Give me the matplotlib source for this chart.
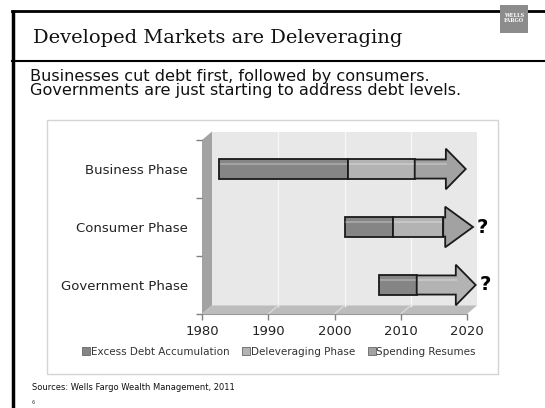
import numpy as np
import matplotlib
matplotlib.use('Agg')
import matplotlib.pyplot as plt
from matplotlib.patches import Polygon, Rectangle
from matplotlib.lines import Line2D

# Phase timeline (years); the last stage of each row is drawn as an arrow
categories = ['Business Phase', 'Consumer Phase', 'Government Phase']
excess_start = [1981.0, 2000.0, 2005.2]
delever_start = [2000.6, 2007.3, 2010.9]
resume_start = [2010.6, 2014.9, np.nan]   # government has not resumed spending
head_base = [2015.3, 2015.2, 2016.8]
arrow_tip = [2018.3, 2019.4, 2019.8]
open_ended = [False, True, True]

years = [1980, 1990, 2000, 2010, 2020]
legend_labels = ['Excess Debt Accumulation', 'Deleveraging Phase', 'Spending Resumes']
colors = ['#858585', '#b3b3b3', '#a2a2a2']

W, H = 545, 408
fig = plt.figure(figsize=(W / 100, H / 100), dpi=100)
fig.patch.set_facecolor('white')

# slide frame in pixel coordinates
frame = fig.add_axes([0, 0, 1, 1])
frame.set_xlim(0, W)
frame.set_ylim(H, 0)
frame.axis('off')
frame.plot([13, 13], [10, H], color='black', lw=2.5, solid_capstyle='butt')
frame.plot([12, W], [11, 11], color='black', lw=2)
frame.plot([12, W], [61, 61], color='black', lw=1.5)
frame.add_patch(Rectangle((500, 5), 28, 28, facecolor='#8c8c8c', edgecolor='none', zorder=3))
frame.text(514, 18, 'WELLS\nFARGO', color='white', fontsize=3.6, fontweight='bold',
           family='DejaVu Serif', ha='center', va='center', linespacing=1.0, zorder=4)
frame.text(33, 43, 'Developed Markets are Deleveraging', family='DejaVu Serif',
           fontsize=14, ha='left', va='baseline', color='#111111')
frame.text(30, 76, 'Businesses cut debt first, followed by consumers.',
           fontsize=11.6, ha='left', va='center', color='#111111')
frame.text(30, 90, 'Governments are just starting to address debt levels.',
           fontsize=11.6, ha='left', va='center', color='#111111')
frame.add_patch(Rectangle((47, 120), 451, 254, facecolor='white', edgecolor='#d4d4d4', lw=1))
frame.text(32, 388, 'Sources: Wells Fargo Wealth Management, 2011', fontsize=6,
           ha='left', va='center', color='#111111')
frame.text(32, 402, '6', fontsize=3.5, ha='left', va='center', color='#333333')

# chart: front plane of the 3D box
ax = fig.add_axes([202 / W, 1 - 314 / H, 265 / W, 174 / H])
ax.set_facecolor('none')
ax.set_xlim(1980, 2020)
ax.set_ylim(0, 3)
for s in ax.spines.values():
    s.set_visible(False)

# depth offset of the back wall, in data units
ddx = 10 * 40 / 265
ddy = 8.5 * 3 / 174

ax.add_patch(Rectangle((1980 + ddx, ddy), 40, 3, facecolor='#e8e8e8', edgecolor='none',
                       clip_on=False, zorder=0))
ax.add_patch(Polygon([(1980, 0), (1980, 3), (1980 + ddx, 3 + ddy), (1980 + ddx, ddy)],
                     facecolor='#a3a3a3', edgecolor='none', clip_on=False, zorder=0))
ax.add_patch(Polygon([(1980, 0), (2020, 0), (2020 + ddx, ddy), (1980 + ddx, ddy)],
                     facecolor='#bcbcbc', edgecolor='none', clip_on=False, zorder=0))
for yr in years[1:-1]:
    ax.plot([yr + ddx, yr + ddx], [ddy, 3 + ddy], color='#f7f7f7', lw=1, zorder=1, clip_on=False)
    ax.plot([yr, yr + ddx], [0, ddy], color='#d8d8d8', lw=1, zorder=1, clip_on=False)

ax.set_xticks(years)
ax.set_xticklabels([str(y) for y in years], fontsize=9.5, color='#222222')
ax.tick_params(axis='x', length=4, width=1, color='#808080', pad=4)
ax.set_yticks([2.5, 1.5, 0.5])
ax.set_yticklabels(categories, fontsize=9.5, color='#222222')
ax.tick_params(axis='y', length=0, pad=10)
ax.set_yticks([0, 1, 2, 3], minor=True)
ax.tick_params(axis='y', which='minor', length=4, width=1, color='#808080')
ax.plot([1980, 2020], [0, 0], color='#9a9a9a', lw=0.8, zorder=1, clip_on=False)

body = 0.165
head = 0.35
for i, y in enumerate([2.5, 1.5, 0.5]):
    x0, x1, x2 = excess_start[i], delever_start[i], resume_start[i]
    segs = [(x0, x1, colors[0])]
    if np.isnan(x2):
        last_start, last_color = x1, colors[1]
    else:
        segs.append((x1, x2, colors[1]))
        last_start, last_color = x2, colors[2]
    for a, b, c in segs:
        ax.add_patch(Rectangle((a + ddx, y - body), b - a, 2 * body, facecolor=c,
                               edgecolor='#1a1a1a', lw=1.3, clip_on=False, zorder=3))
        ax.plot([a + ddx + 0.3, b + ddx - 0.3], [y + body * 0.55] * 2, color='white',
                alpha=0.25, lw=1.5, zorder=4, clip_on=False)
    hb, tip = head_base[i] + ddx, arrow_tip[i] + ddx
    ls = last_start + ddx
    pts = [(ls, y - body), (hb, y - body), (hb, y - head), (tip, y),
           (hb, y + head), (hb, y + body), (ls, y + body)]
    ax.add_patch(Polygon(pts, facecolor=last_color, edgecolor='#1a1a1a', lw=1.3,
                         joinstyle='miter', clip_on=False, zorder=3))
    ax.plot([ls + 0.3, hb], [y + body * 0.55] * 2, color='white', alpha=0.25, lw=1.5,
            zorder=4, clip_on=False)
    if open_ended[i]:
        ax.annotate('?', xy=(tip, y), xytext=(2.5, 0), textcoords='offset points',
                    ha='left', va='center', fontsize=14, fontweight='bold', color='black',
                    annotation_clip=False)

handles = [Line2D([], [], marker='s', linestyle='none', markersize=5.5, markerfacecolor=c,
                  markeredgecolor='#666666', markeredgewidth=0.6) for c in colors]
fig.legend(handles, legend_labels, loc='center', bbox_to_anchor=(279 / W, 1 - 352 / H),
           ncol=3, frameon=False, fontsize=7.5, handletextpad=0.05, columnspacing=1.2,
           handlelength=0.8, labelcolor='#333333')

fig.savefig('out.png', dpi=100)
